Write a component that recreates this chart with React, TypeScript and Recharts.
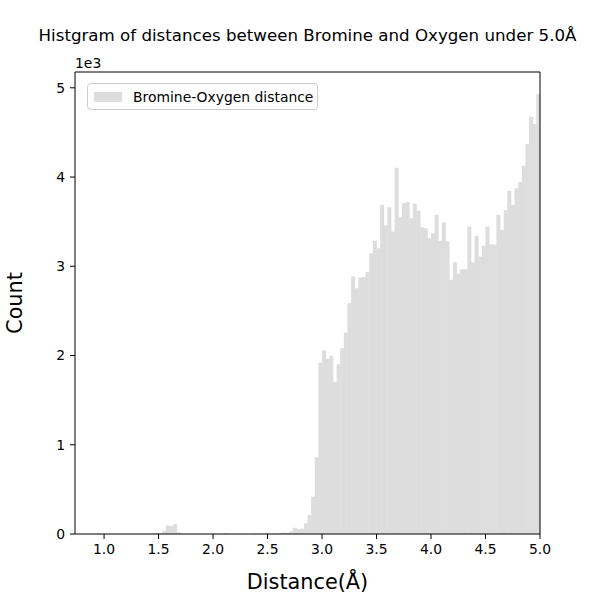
import { BarChart, Bar, XAxis, YAxis, Legend } from 'recharts'

// histogram bins are 1/30 Å wide, first bin starts at 22/30 Å, last one ends at 5.0 Å
const BIN_WIDTH = 1 / 30
const FIRST_EDGE = 22 / 30

// counts per bin (128 bins, 0.733 .. 5.0 Å)
const counts = [
    0, 0, 0, 0, 0, 0, 8, 0, 0, 0, 0, 0, 0, 0, 0, 0, 0, 0, 0, 0,
    0, 4, 12, 6, 35, 95, 90, 110, 18, 5, 0, 4, 0, 0, 0, 0, 0, 0, 0, 0,
    0, 10, 0, 0, 0, 0, 0, 0, 0, 6, 0, 0, 8, 0, 4, 6, 10, 15, 15, 30,
    70, 55, 60, 120, 213, 418, 860, 1920, 2055, 1965, 1995, 1704, 1902, 2082, 2257, 2586, 2885, 2754, 2874, 2881,
    2937, 3147, 3285, 3203, 3688, 3456, 3662, 3389, 4103, 3550, 3707, 3718, 3539, 3700, 3621, 3438, 3427, 3315, 3371, 3576,
    3285, 3490, 3277, 2848, 3046, 2915, 2967, 2967, 3445, 3041, 3341, 3109, 3230, 3445, 3248, 3240, 3576, 3408, 3632, 3845,
    3688, 3875, 3943, 4126, 4369, 4675, 4593, 4930,
]

const xTicks = [1.0, 1.5, 2.0, 2.5, 3.0, 3.5, 4.0, 4.5, 5.0]
const yTicks = [0, 1000, 2000, 3000, 4000, 5000]

const TITLE = 'Histgram of distances between Bromine and Oxygen under 5.0Å'
const SERIES_NAME = 'Bromine-Oxygen distance'
const BAR_COLOR = '#dddddd'
const FONT = '"DejaVu Sans", sans-serif'

const data = counts.map((count, i) => ({
    x: FIRST_EDGE + (i + 0.5) * BIN_WIDTH,
    count,
}))

function LegendBox() {
    return (
        <div
            style={{
                display: 'flex',
                alignItems: 'center',
                boxSizing: 'border-box',
                width: 231,
                height: 27,
                paddingLeft: 6,
                border: '1px solid #cccccc',
                borderRadius: 4,
                background: 'rgba(255,255,255,0.8)',
                fontFamily: FONT,
                fontSize: 13.9,
                color: '#000',
                whiteSpace: 'nowrap',
            }}
        >
            <div style={{ width: 28, height: 10, background: BAR_COLOR, marginRight: 11 }} />
            <span>{SERIES_NAME}</span>
        </div>
    )
}

export default function App() {
    return (
        <div style={{ position: 'absolute', left: 0, top: 0, width: 600, height: 600, background: '#fff', fontFamily: FONT }}>
            <BarChart
                width={600}
                height={600}
                data={data}
                margin={{ top: 71, right: 59, bottom: 36, left: 35 }}
                barCategoryGap={0}
                barGap={0}
            >
                <XAxis
                    dataKey="x"
                    type="number"
                    domain={[FIRST_EDGE, 5]}
                    allowDataOverflow
                    ticks={xTicks}
                    tickFormatter={(v: number) => v.toFixed(1)}
                    height={30}
                    tickSize={5}
                    tickMargin={5}
                    stroke="#000"
                    tick={{ fill: '#000', fontSize: 13.9, fontFamily: FONT }}
                    label={{
                        content: (props: any) => {
                            const vb = props.viewBox
                            const cx = vb.x + vb.width / 2
                            return (
                                <g>
                                    <text x={cx} y={589} textAnchor="middle" fontSize={20.8} fontFamily={FONT} fill="#000">
                                        Distance(Å)
                                    </text>
                                    <text x={cx} y={41} textAnchor="middle" fontSize={16.67} fontFamily={FONT} fill="#000">
                                        {TITLE}
                                    </text>
                                </g>
                            )
                        },
                    }}
                />
                <XAxis
                    xAxisId="top"
                    dataKey="x"
                    orientation="top"
                    type="number"
                    domain={[FIRST_EDGE, 5]}
                    allowDataOverflow
                    height={1}
                    tick={false}
                    tickLine={false}
                    stroke="#000"
                />
                <YAxis
                    type="number"
                    domain={[0, 5177]}
                    allowDataOverflow
                    ticks={yTicks}
                    tickFormatter={(v: number) => String(v / 1000)}
                    width={40}
                    tickSize={5}
                    tickMargin={5}
                    stroke="#000"
                    tick={{ fill: '#000', fontSize: 13.9, fontFamily: FONT }}
                    label={{
                        content: (props: any) => {
                            const vb = props.viewBox
                            const cy = vb.y + vb.height / 2
                            return (
                                <g>
                                    <text x={22} y={cy} transform={`rotate(-90 22 ${cy})`} textAnchor="middle" fontSize={20.8} fontFamily={FONT} fill="#000">
                                        Count
                                    </text>
                                    <text x={vb.x + vb.width} y={vb.y - 4} textAnchor="start" fontSize={13.9} fontFamily={FONT} fill="#000">
                                        1e3
                                    </text>
                                </g>
                            )
                        },
                    }}
                />
                <YAxis
                    yAxisId="right"
                    orientation="right"
                    type="number"
                    domain={[0, 5177]}
                    allowDataOverflow
                    width={1}
                    tick={false}
                    tickLine={false}
                    stroke="#000"
                />
                <Legend
                    layout="horizontal"
                    verticalAlign="middle"
                    align="center"
                    wrapperStyle={{ left: 87, top: 83, width: 'auto', height: 'auto' }}
                    content={() => <LegendBox />}
                />
                <Bar dataKey="count" name={SERIES_NAME} fill={BAR_COLOR} isAnimationActive={false} />
            </BarChart>
        </div>
    )
}
